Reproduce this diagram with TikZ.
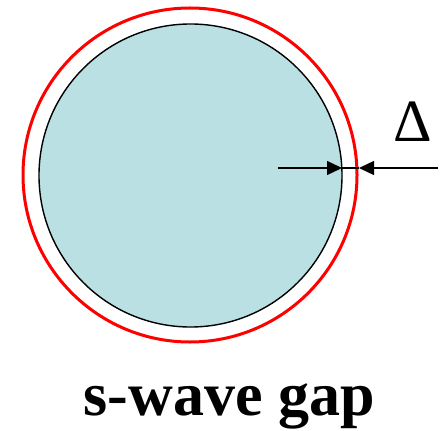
\documentclass[tikz,border=0pt]{standalone}
\usepackage{fontspec}
\setmainfont{Liberation Serif}
\usetikzlibrary{arrows.meta}
\definecolor{gapfill}{RGB}{186,224,227}
\begin{document}
\begin{tikzpicture}[x=1pt,y=-1pt,
  gaparrow/.style={draw=black,line width=1.4pt,-{Triangle[length=15pt,width=14pt]}}]
\useasboundingbox (0,0) rectangle (443,430);
\node[circle,draw=red,line width=3pt,minimum size=334pt,inner sep=0pt] (outer) at (190,175) {};
\node[circle,draw=black,fill=gapfill,line width=1.4pt,minimum size=303pt,inner sep=0pt] (inner) at (190.5,175.5) {};
\coordinate (lstart) at (278,168);
\coordinate (ltip) at (342,168);
\coordinate (rstart) at (438,168);
\coordinate (rtip) at (359,168);
\draw[gaparrow] (lstart) -- (ltip);
\draw[gaparrow] (rstart) -- (rtip);
\draw[black,line width=1.4pt] (ltip) -- (rtip);
\node[font=\fontsize{60}{60}\selectfont,inner sep=0pt] (delta) at (413,122) {Δ};
\node[font=\fontsize{62}{62}\selectfont\bfseries,inner sep=0pt,anchor=base] (label) at (229,415) {s-wave gap};
\end{tikzpicture}
\end{document}
